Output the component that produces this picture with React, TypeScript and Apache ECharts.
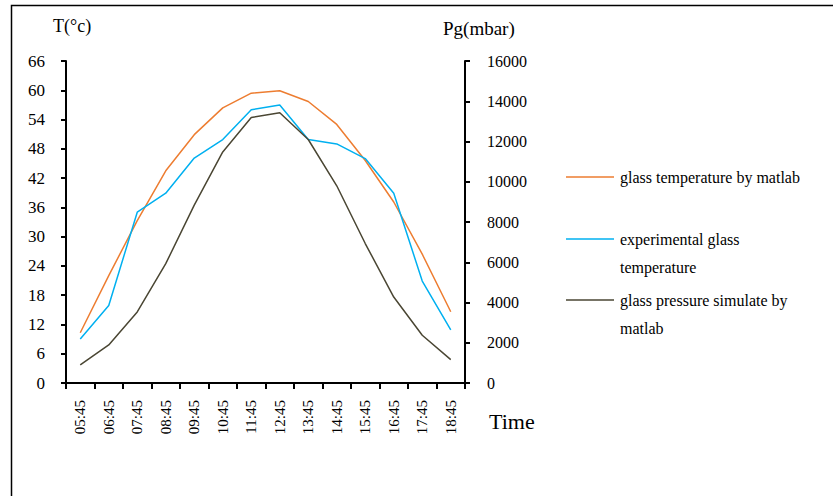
import React, { useEffect, useRef } from "react";
import * as echarts from "echarts";

const categories = ["05:45", "06:45", "07:45", "08:45", "09:45", "10:45", "11:45", "12:45", "13:45", "14:45", "15:45", "16:45", "17:45", "18:45"];
const matlabTemp = [10.3, 22.0, 33.3, 43.5, 50.9, 56.4, 59.4, 59.9, 57.7, 53.0, 45.6, 37.1, 26.4, 14.6];
const expTemp = [9.0, 15.9, 35.0, 38.9, 46.1, 49.9, 56.0, 57.0, 49.9, 49.0, 46.0, 38.9, 20.9, 10.9];
const pressure = [900, 1890, 3530, 5930, 8840, 11480, 13190, 13430, 12100, 9800, 6930, 4270, 2370, 1160];
const seriesNames = ["glass temperature by matlab", "experimental glass temperature", "glass pressure simulate by matlab"];
const legendLabels = ["glass temperature by matlab", "experimental glass\ntemperature", "glass pressure simulate by\nmatlab"];
const colors = ["#ED7D31", "#00B0F0", "#4a4633"];
const leftTicks = { min: 0, max: 66, interval: 6 };
const rightTicks = { min: 0, max: 16000, interval: 2000 };

const FONT = "Liberation Serif";

export default function App() {
  const ref = useRef<HTMLDivElement>(null);
  useEffect(() => {
    document.body.style.margin = "0";
    const chart = echarts.init(ref.current!, null, { renderer: "svg" });
    const axisCommon = {
      axisLine: { show: true, lineStyle: { color: "#000", width: 2 } },
      axisTick: { show: true, length: 5, lineStyle: { color: "#000", width: 2 } },
      splitLine: { show: false },
    };
    const legendY = [177, 239, 300];
    const legendGraphics: any[] = [];
    legendLabels.forEach((label, i) => {
      legendGraphics.push({
        type: "line",
        shape: { x1: 566, y1: legendY[i], x2: 614, y2: legendY[i] },
        style: { stroke: colors[i], lineWidth: 1.5 },
      });
      legendGraphics.push({
        type: "text",
        x: 620,
        y: legendY[i] - 14,
        style: {
          text: label,
          fontSize: 16,
          fontFamily: FONT,
          fill: "#000",
          lineHeight: 28,
          verticalAlign: "top",
          align: "left",
        },
      });
    });
    chart.setOption({
      animation: false,
      backgroundColor: "#fff",
      textStyle: { fontFamily: FONT },
      grid: { left: 66, top: 61, width: 399, height: 322, containLabel: false },
      xAxis: {
        type: "category",
        data: categories,
        boundaryGap: true,
        axisLine: { show: true, lineStyle: { color: "#000", width: 2 } },
        axisTick: { show: true, interval: 0, length: 6, lineStyle: { color: "#000", width: 2 } },
        axisLabel: { rotate: 90, interval: 0, fontSize: 15, fontFamily: FONT, color: "#000", margin: 17 },
        splitLine: { show: false },
      },
      yAxis: [
        {
          type: "value",
          position: "left",
          min: leftTicks.min,
          max: leftTicks.max,
          interval: leftTicks.interval,
          ...axisCommon,
          axisLabel: { fontSize: 17, fontFamily: FONT, color: "#000", margin: 21 },
        },
        {
          type: "value",
          position: "right",
          min: rightTicks.min,
          max: rightTicks.max,
          interval: rightTicks.interval,
          ...axisCommon,
          axisLabel: {
            fontSize: 16,
            fontFamily: FONT,
            color: "#000",
            margin: 22,
            formatter: (v: number) => String(v),
          },
        },
      ],
      series: [
        {
          name: seriesNames[0],
          type: "line",
          yAxisIndex: 0,
          data: matlabTemp,
          showSymbol: false,
          lineStyle: { color: colors[0], width: 1.5 },
          itemStyle: { color: colors[0] },
        },
        {
          name: seriesNames[1],
          type: "line",
          yAxisIndex: 0,
          data: expTemp,
          showSymbol: false,
          lineStyle: { color: colors[1], width: 1.5 },
          itemStyle: { color: colors[1] },
        },
        {
          name: seriesNames[2],
          type: "line",
          yAxisIndex: 1,
          data: pressure,
          showSymbol: false,
          lineStyle: { color: colors[2], width: 1.5 },
          itemStyle: { color: colors[2] },
        },
      ],
      graphic: [
        {
          type: "rect",
          shape: { x: 11.5, y: 5.5, width: 900, height: 600 },
          style: { fill: "none", stroke: "#000", lineWidth: 1.5 },
          silent: true,
        },
        {
          type: "text",
          x: 53,
          y: 26,
          style: { text: "T(°c)", fontSize: 18, fontFamily: FONT, fill: "#000", verticalAlign: "middle", align: "left" },
        },
        {
          type: "text",
          x: 443,
          y: 28,
          style: { text: "Pg(mbar)", fontSize: 19, fontFamily: FONT, fill: "#000", verticalAlign: "middle", align: "left" },
        },
        {
          type: "text",
          x: 489,
          y: 421,
          style: { text: "Time", fontSize: 22, fontFamily: FONT, fill: "#000", verticalAlign: "middle", align: "left" },
        },
        ...legendGraphics,
      ],
    });
    return () => chart.dispose();
  }, []);
  return <div ref={ref} style={{ width: 833, height: 496 }} />;
}
